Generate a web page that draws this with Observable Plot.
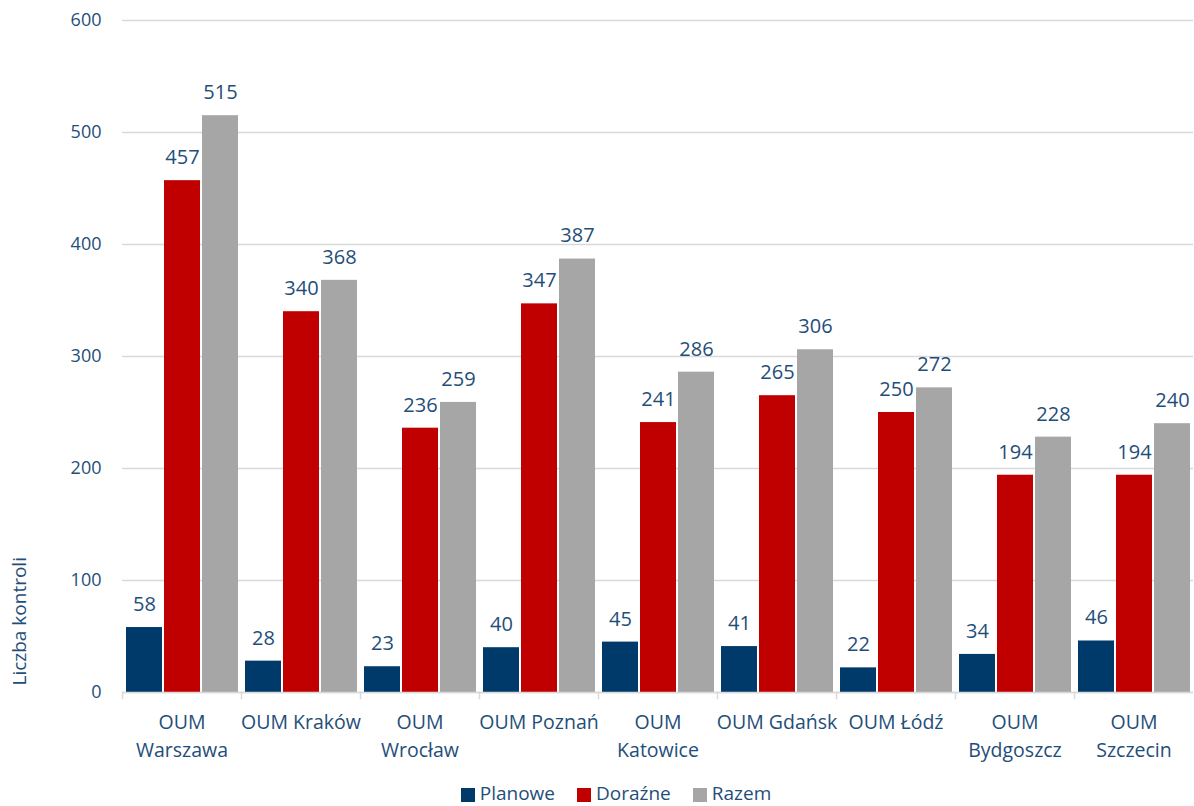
<!DOCTYPE html>
<html><head><meta charset="utf-8">
<script src="https://cdn.jsdelivr.net/npm/d3@7"></script>
<script src="https://cdn.jsdelivr.net/npm/@observablehq/plot@0.6"></script>
<style>
body{margin:0;background:#fff;width:1194px;height:806px;overflow:hidden;font-family:"Open Sans",sans-serif;}
#legend{position:absolute;left:40px;top:782px;width:1152px;height:22px;line-height:22px;display:flex;justify-content:center;align-items:center;color:#1f4e79;font-size:19px;}
#legend span.item{display:flex;align-items:center;margin:0 11px;}
#legend span.sw{width:14px;height:14px;display:inline-block;margin-right:5px;position:relative;top:2px;}
#chart{position:absolute;left:0;top:0;}
</style></head>
<body>
<div id="chart"></div>
<div id="legend"></div>
<script>
const categories = ["OUM Warszawa","OUM Kraków","OUM Wrocław","OUM Poznań","OUM Katowice","OUM Gdańsk","OUM Łódź","OUM Bydgoszcz","OUM Szczecin"];
const tickLabels = ["OUM\nWarszawa","OUM Kraków","OUM\nWrocław","OUM Poznań","OUM\nKatowice","OUM Gdańsk","OUM Łódź","OUM\nBydgoszcz","OUM\nSzczecin"];
const seriesNames = ["Planowe","Doraźne","Razem"];
const seriesColors = ["#003A6B","#C00000","#A6A6A6"];
const planowe = [58,28,23,40,45,41,22,34,46];
const dorazne = [457,340,236,347,241,265,250,194,194];
const razem = [515,368,259,387,286,306,272,228,240];
const yTicks = [0,100,200,300,400,500,600];
const yTitle = "Liczba kontroli";

const textColor = "#1f4e79";
const font = "Open Sans";
const seriesValues = [planowe, dorazne, razem];
const data = [];
categories.forEach((c, i) => seriesNames.forEach((s, j) => data.push({category: c, series: s, value: seriesValues[j][i]})));
const labelMap = new Map(categories.map((c, i) => [c, tickLabels[i]]));

const chart = Plot.plot({
  width: 1194,
  height: 780,
  marginTop: 20,
  marginLeft: 121,
  marginRight: 0,
  marginBottom: 88,
  style: {fontFamily: font, color: textColor, background: "#fff"},
  fx: {domain: categories, padding: 0, label: null},
  x: {domain: seriesNames, paddingInner: 0.065, paddingOuter: 0.08, axis: null},
  y: {domain: [0, 600], label: null},
  color: {domain: seriesNames, range: seriesColors},
  marks: [
    Plot.gridY(yTicks, {stroke: "#d9d9d9", strokeOpacity: 1, strokeWidth: 1.5}),
    Plot.axisY(yTicks, {tickSize: 0, tickPadding: 21, fontSize: 18, fill: textColor, label: null}),
    Plot.frame({anchor: "left", stroke: "#d9d9d9", strokeWidth: 1.5, insetTop: 672, insetBottom: -6}),
    Plot.barY(data, {fx: "category", x: "series", y: "value", fill: "series"}),
    Plot.ruleY([0], {stroke: "#d9d9d9", strokeWidth: 1.5}),
    Plot.text(data, {fx: "category", x: "series", y: "value", text: d => String(d.value), dy: -23, fontSize: 20, fill: textColor, lineAnchor: "middle"}),
    Plot.axisFx({anchor: "bottom", tickSize: 0, tickPadding: 16, fontSize: 19.5, lineHeight: 1.45, fill: textColor, label: null, tickFormat: d => labelMap.get(d)}),
    Plot.text([yTitle], {frameAnchor: "bottom-left", facet: "super", rotate: -90, textAnchor: "start", lineAnchor: "middle", dx: -103, dy: -7, fontSize: 19, fill: textColor})
  ]
});
document.getElementById("chart").appendChild(chart);

const legend = document.getElementById("legend");
seriesNames.forEach((s, i) => {
  const item = document.createElement("span");
  item.className = "item";
  const sw = document.createElement("span");
  sw.className = "sw";
  sw.style.background = seriesColors[i];
  item.appendChild(sw);
  item.appendChild(document.createTextNode(s));
  legend.appendChild(item);
});
</script>
</body></html>
